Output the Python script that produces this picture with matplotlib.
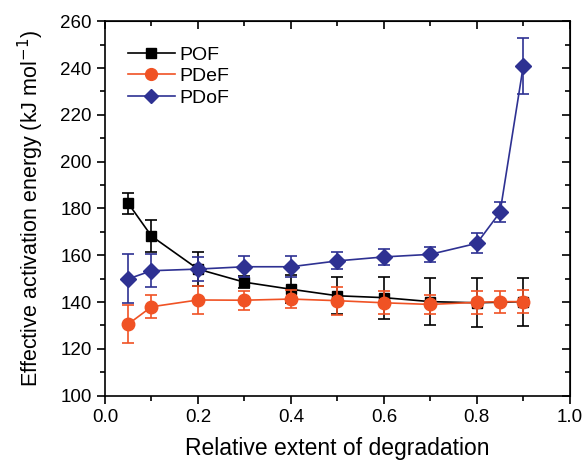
import matplotlib
matplotlib.use('Agg')
import matplotlib.pyplot as plt
from matplotlib.ticker import MultipleLocator, FormatStrFormatter
from matplotlib.lines import Line2D

plt.rcParams['font.family'] = ['Liberation Sans', 'DejaVu Sans']

# Relative extent of degradation
x_pof = [0.05, 0.1, 0.2, 0.3, 0.4, 0.5, 0.6, 0.7, 0.8, 0.9]
x_all = [0.05, 0.1, 0.2, 0.3, 0.4, 0.5, 0.6, 0.7, 0.8, 0.85, 0.9]

# Effective activation energy (kJ/mol) and error bars
pof = [182.2, 168.2, 154.1, 148.5, 145.5, 142.7, 141.9, 140.2, 139.7, 140.2]
pof_err = [4.5, 7.0, 7.2, 2.5, 6.0, 8.0, 9.0, 10.0, 10.5, 10.3]

pdef = [130.6, 138.0, 140.9, 140.8, 141.3, 140.6, 139.7, 139.0, 139.9, 140.2, 140.2]
pdef_err = [8.0, 5.0, 6.0, 4.0, 4.0, 6.0, 5.0, 4.0, 5.0, 4.7, 5.0]

pdof = [149.9, 153.4, 154.1, 155.1, 155.1, 157.6, 159.3, 160.4, 165.1, 178.4, 241.0]
pdof_err = [10.5, 7.0, 5.0, 4.5, 4.5, 3.6, 3.3, 3.3, 4.3, 4.3, 12.0]

c_pof, c_pdef, c_pdof = 'black', '#F05224', '#2E3192'

fig = plt.figure(figsize=(5.85, 4.62), dpi=100)
ax = fig.add_axes([0.1795, 0.1435, 0.7945, 0.8105])

ax.errorbar(x_pof, pof, yerr=pof_err, color=c_pof, marker='s', ms=7.5,
            lw=1.2, elinewidth=1.2, capsize=4, capthick=1.2, zorder=3)
ax.errorbar(x_all, pdef, yerr=pdef_err, color=c_pdef, marker='o', ms=9,
            lw=1.2, elinewidth=1.2, capsize=4, capthick=1.2, zorder=4)
ax.errorbar(x_all, pdof, yerr=pdof_err, color=c_pdof, marker='D', ms=8,
            lw=1.2, elinewidth=1.2, capsize=4, capthick=1.2, zorder=5)

ax.set_xlim(0, 1.0)
ax.set_ylim(100, 260)
ax.xaxis.set_major_locator(MultipleLocator(0.2))
ax.xaxis.set_minor_locator(MultipleLocator(0.1))
ax.yaxis.set_major_locator(MultipleLocator(20))
ax.yaxis.set_minor_locator(MultipleLocator(10))
ax.xaxis.set_major_formatter(FormatStrFormatter('%.1f'))

ax.tick_params(which='both', direction='out', labelsize=13.5, width=1.2,
               top=False, right=False)
ax.tick_params(which='major', length=6)
ax.tick_params(which='minor', length=3.5)
# inward ticks on top and right
ax2 = ax.secondary_xaxis('top')
ax2.xaxis.set_major_locator(MultipleLocator(0.2))
ax2.xaxis.set_minor_locator(MultipleLocator(0.1))
ax2.tick_params(which='both', direction='in', labeltop=False, width=1.2)
ax2.tick_params(which='major', length=6)
ax2.tick_params(which='minor', length=3.5)
ay2 = ax.secondary_yaxis('right')
ay2.yaxis.set_major_locator(MultipleLocator(20))
ay2.yaxis.set_minor_locator(MultipleLocator(10))
ay2.tick_params(which='both', direction='in', labelright=False, width=1.2)
ay2.tick_params(which='major', length=6)
ay2.tick_params(which='minor', length=3.5)

for s in ax.spines.values():
    s.set_linewidth(1.2)

ax.set_xlabel('Relative extent of degradation', fontsize=16.5, labelpad=8)
ax.set_ylabel('Effective activation energy (kJ mol$^{-1}$)', fontsize=15.5, labelpad=10)

handles = [Line2D([], [], color=c_pof, marker='s', ms=7, lw=1.2),
           Line2D([], [], color=c_pdef, marker='o', ms=8.5, lw=1.2),
           Line2D([], [], color=c_pdof, marker='D', ms=7.5, lw=1.2)]
ax.legend(handles, ['POF', 'PDeF', 'PDoF'], loc='upper left', frameon=False,
          fontsize=14, handlelength=2.4, bbox_to_anchor=(0.02, 0.97),
          handletextpad=0.25, labelspacing=0.2, borderaxespad=0.3)

fig.savefig('out.png', dpi=100)
